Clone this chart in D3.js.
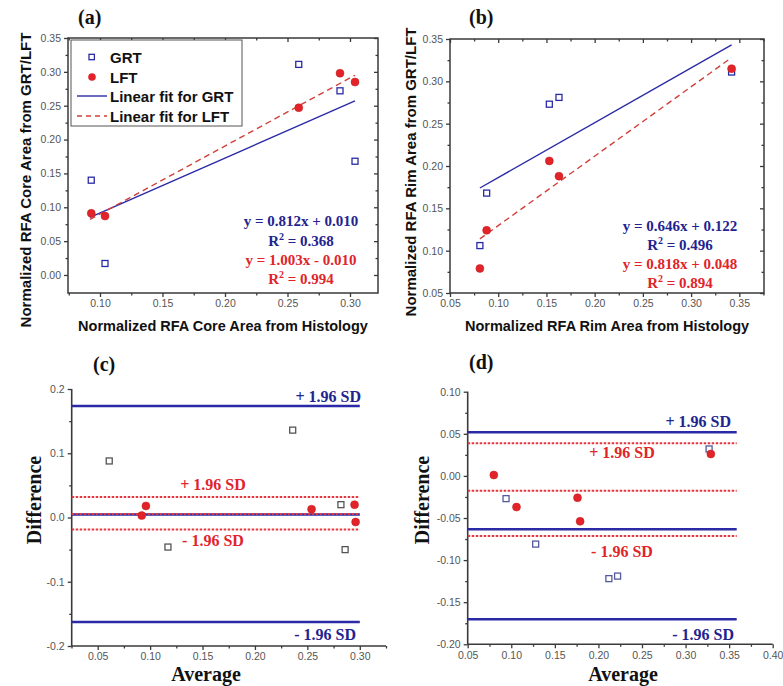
<!DOCTYPE html>
<html><head><meta charset="utf-8">
<script src="https://cdn.jsdelivr.net/npm/d3@7"></script>
<style>
html,body{margin:0;padding:0;background:#fff;}
svg{display:block;}
</style>
</head><body>
<svg id="chart" width="783" height="686"></svg>
<script>
// ---------- DATA ----------
// Panel (a): core area
const histCoreX   = [0.093, 0.104, 0.259, 0.292, 0.304];
const grtCoreY    = [0.140, 0.017, 0.311, 0.272, 0.168];
const lftCoreY    = [0.091, 0.087, 0.247, 0.298, 0.285];
const fitCoreGRT  = [[0.092, 0.085], [0.304, 0.257]];
const fitCoreLFT  = [[0.092, 0.082], [0.304, 0.295]];
const eqCore      = ["y = 0.812x + 0.010", "0.368", "y = 1.003x - 0.010", "0.994"];
// Panel (b): rim area
const histRimX    = [0.081, 0.088, 0.153, 0.163, 0.342];
const grtRimY     = [0.106, 0.168, 0.273, 0.281, 0.311];
const lftRimY     = [0.079, 0.124, 0.206, 0.188, 0.315];
const fitRimGRT   = [[0.081, 0.174], [0.342, 0.343]];
const fitRimLFT   = [[0.081, 0.114], [0.342, 0.328]];
const eqRim       = ["y = 0.646x + 0.122", "0.496", "y = 0.818x + 0.048", "0.894"];
// Panel (c): Bland-Altman core
const baCoreGRTx  = [0.061, 0.117, 0.236, 0.282, 0.286];
const baCoreGRTy  = [0.088, -0.046, 0.136, 0.020, -0.050];
const baCoreLFTx  = [0.092, 0.096, 0.254, 0.295, 0.296];
const baCoreLFTy  = [0.003, 0.018, 0.013, 0.020, -0.007];
const limCoreGRT  = [0.1735, 0.0045, -0.1625];   // +1.96SD, mean, -1.96SD
const limCoreLFT  = [0.032, 0.0055, -0.0187];
// Panel (d): Bland-Altman rim
const baRimGRTx   = [0.094, 0.128, 0.212, 0.222, 0.327];
const baRimGRTy   = [-0.027, -0.081, -0.122, -0.119, 0.032];
const baRimLFTx   = [0.080, 0.106, 0.176, 0.179, 0.329];
const baRimLFTy   = [0.001, -0.037, -0.026, -0.054, 0.026];
const limRimGRT   = [0.0518, -0.0634, -0.1703];
const limRimLFT   = [0.0387, -0.0176, -0.0714];
// Tick values and labels
const ticksAx = [0.10, 0.15, 0.20, 0.25, 0.30];
const ticksAy = [0.00, 0.05, 0.10, 0.15, 0.20, 0.25, 0.30, 0.35];
const ticksBx = [0.05, 0.10, 0.15, 0.20, 0.25, 0.30, 0.35];
const ticksBy = [0.05, 0.10, 0.15, 0.20, 0.25, 0.30, 0.35];
const ticksCx = [0.05, 0.10, 0.15, 0.20, 0.25, 0.30];
const ticksCy = [-0.2, -0.1, 0.0, 0.1, 0.2];
const labelsCy = ["-0.2", "-0.1", "0.0", "0.1", "0.2"];
const ticksDx = [0.05, 0.10, 0.15, 0.20, 0.25, 0.30, 0.35, 0.40];
const ticksDy = [-0.20, -0.15, -0.10, -0.05, 0.00, 0.05, 0.10];
const legendLabels = ["GRT", "LFT", "Linear fit for GRT", "Linear fit for LFT"];

// ---------- STYLE ----------
const BLUE = "#2a2aa6", BLUE_T = "#23238f", RED = "#e0242a", RED_D = "#e03a40";
const AXIS = "#3a3a3a", TICKTXT = "#555";
const SANS = "'Liberation Sans', Arial, sans-serif";
const SERIF = "'Liberation Serif', 'Times New Roman', serif";

const svg = d3.select("#chart");
const fmt = d => d.toFixed(2).replace("-0.00", "0.00");
const fmtCy = d => labelsCy[ticksCy.findIndex(v => Math.abs(v - d) < 1e-9)];

function minorsBetween(maj, lo, hi) {
  const step = maj[1] - maj[0];
  const out = [];
  for (let i = -1; i < maj.length; i++) {
    const v = (i < 0 ? maj[0] - step / 2 : maj[i] + step / 2);
    if (v >= lo - 1e-9 && v <= hi + 1e-9) out.push(+v.toFixed(4));
  }
  return out;
}

function styleAxis(g) {
  g.selectAll("path.domain").remove();
  g.selectAll("line").attr("stroke", AXIS).attr("stroke-width", 1.3);
  g.selectAll("text").attr("fill", TICKTXT).style("font-family", SANS).style("font-size", "10.5px");
}

function drawAxes(x, y, o) {
  const [x0, x1] = x.range(), [yb, yt] = y.range();
  const g = svg.append("g");
  g.append("g").attr("transform", `translate(0,${yb})`)
    .call(d3.axisBottom(x).tickValues(o.xt).tickFormat(o.xf).tickSizeInner(4).tickSizeOuter(0).tickPadding(3))
    .call(styleAxis);
  g.append("g").attr("transform", `translate(0,${yb})`)
    .call(d3.axisBottom(x).tickValues(o.xm).tickFormat(() => "").tickSizeInner(2.5).tickSizeOuter(0))
    .call(styleAxis);
  g.append("g").attr("transform", `translate(${x0},0)`)
    .call(d3.axisLeft(y).tickValues(o.yt).tickFormat(o.yf).tickSizeInner(4).tickSizeOuter(0).tickPadding(3))
    .call(styleAxis);
  g.append("g").attr("transform", `translate(${x0},0)`)
    .call(d3.axisLeft(y).tickValues(o.ym).tickFormat(() => "").tickSizeInner(2.5).tickSizeOuter(0))
    .call(styleAxis);
  if (o.box) {
    g.append("g").attr("transform", `translate(0,${yt})`)
      .call(d3.axisTop(x).tickValues(o.xt).tickFormat(() => "").tickSizeInner(-4).tickSizeOuter(0)).call(styleAxis);
    g.append("g").attr("transform", `translate(0,${yt})`)
      .call(d3.axisTop(x).tickValues(o.xm).tickFormat(() => "").tickSizeInner(-2.5).tickSizeOuter(0)).call(styleAxis);
    g.append("g").attr("transform", `translate(${x1},0)`)
      .call(d3.axisRight(y).tickValues(o.yt).tickFormat(() => "").tickSizeInner(-4).tickSizeOuter(0)).call(styleAxis);
    g.append("g").attr("transform", `translate(${x1},0)`)
      .call(d3.axisRight(y).tickValues(o.ym).tickFormat(() => "").tickSizeInner(-2.5).tickSizeOuter(0)).call(styleAxis);
    g.append("rect").attr("x", x0).attr("y", yt).attr("width", x1 - x0).attr("height", yb - yt)
      .attr("fill", "none").attr("stroke", AXIS).attr("stroke-width", 1.5);
  } else {
    g.append("line").attr("x1", x0).attr("x2", x0).attr("y1", yt).attr("y2", yb)
      .attr("stroke", AXIS).attr("stroke-width", 1.6);
    g.append("line").attr("x1", x0).attr("x2", x1).attr("y1", yb).attr("y2", yb)
      .attr("stroke", AXIS).attr("stroke-width", 1.6);
  }
}

function squares(x, y, xs, ys, color) {
  svg.append("g").selectAll("rect").data(xs.map((v, i) => [v, ys[i]])).join("rect")
    .attr("x", d => x(d[0]) - 3).attr("y", d => y(d[1]) - 3)
    .attr("width", 6).attr("height", 6)
    .attr("fill", "#fff").attr("stroke", color).attr("stroke-width", 1.3);
}
function circles(x, y, xs, ys) {
  svg.append("g").selectAll("circle").data(xs.map((v, i) => [v, ys[i]])).join("circle")
    .attr("cx", d => x(d[0])).attr("cy", d => y(d[1])).attr("r", 4)
    .attr("fill", RED).attr("stroke", "#c81a1a").attr("stroke-width", 0.5);
}
const lineGen = (x, y) => d3.line().x(d => x(d[0])).y(d => y(d[1]));

function panelLabel(t, px, py) {
  svg.append("text").attr("x", px).attr("y", py).text(t)
    .style("font-family", SERIF).style("font-weight", "bold").style("font-size", "20px").attr("fill", "#111");
}
function yTitle(t, cx, cy, font, size) {
  svg.append("text").attr("transform", `translate(${cx},${cy}) rotate(-90)`)
    .attr("text-anchor", "middle").text(t)
    .style("font-family", font).style("font-weight", "bold").style("font-size", size).attr("fill", "#111");
}
function xTitle(t, cx, cy, font, size) {
  svg.append("text").attr("x", cx).attr("y", cy).attr("text-anchor", "middle").text(t)
    .style("font-family", font).style("font-weight", "bold").style("font-size", size).attr("fill", "#111");
}
function equations(eq, cx, ys) {
  const mk = (color, yy) => svg.append("text").attr("x", cx).attr("y", yy).attr("text-anchor", "middle")
    .attr("fill", color).style("font-family", SERIF).style("font-weight", "bold").style("font-size", "15px");
  mk(BLUE_T, ys[0]).text(eq[0]);
  let t = mk(BLUE_T, ys[1]);
  t.append("tspan").text("R");
  t.append("tspan").attr("dy", -6).style("font-size", "10px").text("2");
  t.append("tspan").attr("dy", 6).text(" = " + eq[1]);
  mk(RED, ys[2]).text(eq[2]);
  t = mk(RED, ys[3]);
  t.append("tspan").text("R");
  t.append("tspan").attr("dy", -6).style("font-size", "10px").text("2");
  t.append("tspan").attr("dy", 6).text(" = " + eq[3]);
}

// ---------- PANEL (a) ----------
{
  const x = d3.scaleLinear([0.0744, 0.3224], [68, 378]);
  const y = d3.scaleLinear([-0.0266, 0.35], [293, 38]);
  drawAxes(x, y, { xt: ticksAx, xm: minorsBetween(ticksAx, 0.0744, 0.3224), xf: fmt,
                   yt: ticksAy, ym: minorsBetween(ticksAy, 0.0, 0.35), yf: fmt, box: true });
  svg.append("path").attr("d", lineGen(x, y)(fitCoreGRT)).attr("stroke", BLUE).attr("stroke-width", 1.4).attr("fill", "none");
  svg.append("path").attr("d", lineGen(x, y)(fitCoreLFT)).attr("stroke", "#d0403a").attr("stroke-width", 1.4)
    .attr("stroke-dasharray", "6,4").attr("fill", "none");
  squares(x, y, histCoreX, grtCoreY, BLUE);
  circles(x, y, histCoreX, lftCoreY);
  equations(eqCore, 301, [226, 246, 265, 284]);
  const lg = svg.append("g");
  lg.append("rect").attr("x", 71).attr("y", 40).attr("width", 171).attr("height", 86)
    .attr("fill", "#fff").attr("stroke", "#555").attr("stroke-width", 1);
  const rows = [57, 77, 96, 116];
  lg.append("rect").attr("x", 89).attr("y", rows[0] - 2.7).attr("width", 5.4).attr("height", 5.4)
    .attr("fill", "#fff").attr("stroke", BLUE).attr("stroke-width", 1.3);
  lg.append("circle").attr("cx", 92).attr("cy", rows[1]).attr("r", 3.8).attr("fill", RED);
  lg.append("line").attr("x1", 77).attr("x2", 107).attr("y1", rows[2]).attr("y2", rows[2])
    .attr("stroke", BLUE).attr("stroke-width", 1.4);
  lg.append("line").attr("x1", 77).attr("x2", 107).attr("y1", rows[3]).attr("y2", rows[3])
    .attr("stroke", "#d0403a").attr("stroke-width", 1.4).attr("stroke-dasharray", "5,4");
  legendLabels.forEach((l, i) => {
    lg.append("text").attr("x", 110).attr("y", rows[i] + 5.5).text(l)
      .style("font-family", SANS).style("font-weight", "bold").style("font-size", "15px").attr("fill", "#111");
  });
  panelLabel("(a)", 78, 24);
  yTitle("Normalized RFA Core Area from GRT/LFT", 31, 180, SANS, "15px");
  xTitle("Normalized RFA Core Area from Histology", 223, 331, SANS, "14.5px");
}

// ---------- PANEL (b) ----------
{
  const x = d3.scaleLinear([0.05, 0.3756], [450, 764]);
  const y = d3.scaleLinear([0.05, 0.35], [293, 39]);
  drawAxes(x, y, { xt: ticksBx, xm: minorsBetween(ticksBx, 0.05, 0.3756), xf: fmt,
                   yt: ticksBy, ym: minorsBetween(ticksBy, 0.05, 0.35), yf: fmt, box: true });
  svg.append("path").attr("d", lineGen(x, y)(fitRimGRT)).attr("stroke", BLUE).attr("stroke-width", 1.4).attr("fill", "none");
  svg.append("path").attr("d", lineGen(x, y)(fitRimLFT)).attr("stroke", "#d0403a").attr("stroke-width", 1.4)
    .attr("stroke-dasharray", "6,4").attr("fill", "none");
  squares(x, y, histRimX, grtRimY, BLUE);
  circles(x, y, histRimX, lftRimY);
  equations(eqRim, 680, [231, 250, 269, 288]);
  panelLabel("(b)", 469, 24);
  yTitle("Normalized RFA Rim Area from GRT/LFT", 416, 172, SANS, "15px");
  xTitle("Normalized RFA Rim Area from Histology", 607, 331, SANS, "14.5px");
}

function limitLines(x, y, xEnd, blue, red) {
  const x0 = x.range()[0];
  blue.forEach(v => {
    svg.append("line").attr("x1", x0).attr("x2", x(xEnd)).attr("y1", y(v)).attr("y2", y(v))
      .attr("stroke", BLUE).attr("stroke-width", 2.5);
  });
  red.forEach(v => {
    svg.append("line").attr("x1", x0).attr("x2", x(xEnd)).attr("y1", y(v)).attr("y2", y(v))
      .attr("stroke", RED_D).attr("stroke-width", 2).attr("stroke-dasharray", "2.5,1.5");
  });
}
function sdText(t, px, py, anchor, color) {
  svg.append("text").attr("x", px).attr("y", py).attr("text-anchor", anchor).text(t).attr("fill", color)
    .style("font-family", SERIF).style("font-weight", "bold").style("font-size", "16px");
}

// ---------- PANEL (c) ----------
{
  const x = d3.scaleLinear([0.0252, 0.325], [71.7, 386]);
  const y = d3.scaleLinear([-0.2, 0.2], [646, 389]);
  drawAxes(x, y, { xt: ticksCx, xm: minorsBetween(ticksCx, 0.025, 0.325), xf: fmt,
                   yt: ticksCy, ym: minorsBetween(ticksCy, -0.2, 0.2), yf: fmtCy, box: false });
  limitLines(x, y, 0.30, limCoreGRT, limCoreLFT);
  squares(x, y, baCoreGRTx, baCoreGRTy, "#555");
  circles(x, y, baCoreLFTx, baCoreLFTy);
  sdText("+ 1.96 SD", 361, 402, "end", BLUE_T);
  sdText("- 1.96 SD", 356, 640, "end", BLUE_T);
  sdText("+ 1.96 SD", 213, 490, "middle", RED);
  sdText("- 1.96 SD", 213, 546, "middle", RED);
  panelLabel("(c)", 93, 371);
  yTitle("Difference", 41, 500, SERIF, "20px");
  xTitle("Average", 206, 681, SERIF, "20px");
}

// ---------- PANEL (d) ----------
{
  const x = d3.scaleLinear([0.05, 0.40], [467.7, 772.7]);
  const y = d3.scaleLinear([-0.2, 0.1], [644.3, 391.7]);
  drawAxes(x, y, { xt: ticksDx, xm: minorsBetween(ticksDx, 0.05, 0.40), xf: fmt,
                   yt: ticksDy, ym: minorsBetween(ticksDy, -0.2, 0.1), yf: fmt, box: false });
  limitLines(x, y, 0.3587, limRimGRT, limRimLFT);
  squares(x, y, baRimGRTx, baRimGRTy, "#555a9a");
  circles(x, y, baRimLFTx, baRimLFTy);
  sdText("+ 1.96 SD", 731, 427, "end", BLUE_T);
  sdText("- 1.96 SD", 734, 640, "end", BLUE_T);
  sdText("+ 1.96 SD", 622, 458, "middle", RED);
  sdText("- 1.96 SD", 622, 557, "middle", RED);
  panelLabel("(d)", 469, 369);
  yTitle("Difference", 429, 500, SERIF, "20px");
  xTitle("Average", 623, 681, SERIF, "20px");
}
</script>
</body></html>
